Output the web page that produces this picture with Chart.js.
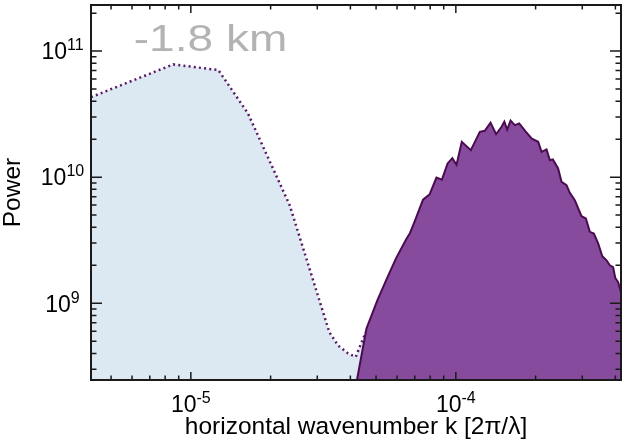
<!DOCTYPE html>
<html><head><meta charset="utf-8">
<script src="https://cdn.jsdelivr.net/npm/chart.js@4"></script>
<style>html,body{margin:0;padding:0;background:#fff}canvas{display:block}</style>
</head><body>
<canvas id="c" width="623" height="444"></canvas>
<script>
// ---- data ----
const belowK = [4.2e-6, 8.58e-6, 1.27e-5, 1.64e-5, 2.36e-5, 3.33e-5, 3.60e-5, 3.92e-5, 4.19e-5, 4.57e-5];
const belowPower = [4.31e10, 7.84e10, 7.07e10, 3.22e10, 6.0e9, 5.9e8, 4.6e8, 4.0e8, 3.75e8, 5.9e8];

const levelK = [4.12e-5, 4.60e-5, 5.06e-5, 5.48e-5, 5.94e-5, 6.52e-5, 6.71e-5, 7.00e-5, 7.52e-5, 7.97e-5,
  8.45e-5, 8.86e-5, 9.31e-5, 9.70e-5, 1.006e-4, 1.053e-4, 1.139e-4, 1.232e-4, 1.286e-4, 1.352e-4,
  1.419e-4, 1.488e-4, 1.524e-4, 1.562e-4, 1.609e-4, 1.670e-4, 1.734e-4, 1.829e-4, 1.935e-4, 2.045e-4,
  2.106e-4, 2.199e-4, 2.263e-4, 2.323e-4, 2.432e-4, 2.505e-4, 2.616e-4, 2.692e-4, 2.812e-4, 2.98e-4,
  3.095e-4, 3.204e-4, 3.318e-4, 3.443e-4, 3.571e-4, 3.704e-4, 3.811e-4, 3.922e-4, 3.998e-4, 4.097e-4, 4.212e-4];
const levelPower = [1.80e8, 6.30e8, 1.06e9, 1.55e9, 2.26e9, 3.26e9, 3.59e9, 4.48e9, 6.63e9, 7.33e9,
  9.91e9, 9.55e9, 1.284e10, 1.415e10, 1.256e10, 1.906e10, 1.638e10, 2.288e10, 2.331e10, 2.707e10,
  2.194e10, 2.507e10, 2.757e10, 2.382e10, 2.808e10, 2.586e10, 2.668e10, 2.318e10, 2.021e10, 1.906e10,
  1.588e10, 1.659e10, 1.364e10, 1.382e10, 1.172e10, 9.18e9, 8.64e9, 7.51e9, 6.57e9, 4.90e9,
  4.70e9, 3.68e9, 3.57e9, 2.98e9, 2.36e9, 2.19e9, 2.00e9, 1.93e9, 1.58e9, 1.47e9, 1.20e9];

const xTickValues = [1e-5, 1e-4];
const xTickExponents = ['-5', '-4'];
const yTickValues = [1e9, 1e10, 1e11];
const yTickExponents = ['9', '10', '11'];

const levelLabel = '-1.8 km';
const xTitle = 'horizontal wavenumber k [2\u03C0/\u03BB]';
const yTitle = 'Power';

const FONT = '"Liberation Sans", Arial, Helvetica, sans-serif';

const decor = {
  id: 'decor',
  afterDraw(chart) {
    const { ctx, chartArea: a, scales: { x, y } } = chart;
    ctx.save();
    const ticksFor = (s) => {
      const out = [];
      const lo = Math.floor(Math.log10(s.min)), hi = Math.ceil(Math.log10(s.max));
      for (let e = lo; e <= hi; e++) for (let m = 1; m <= 9; m++) {
        const v = m * Math.pow(10, e);
        if (v >= s.min * 0.999 && v <= s.max * 1.001) out.push({ v, major: m === 1 });
      }
      return out;
    };
    ctx.strokeStyle = '#1a1a1a';
    ctx.lineWidth = 1.5;
    ctx.beginPath();
    for (const t of ticksFor(x)) {
      const px = x.getPixelForValue(t.v);
      const L = t.major ? 8 : 4.5;
      ctx.moveTo(px, a.bottom); ctx.lineTo(px, a.bottom - L);
      ctx.moveTo(px, a.top); ctx.lineTo(px, a.top + L);
    }
    for (const t of ticksFor(y)) {
      const py = y.getPixelForValue(t.v);
      const L = t.major ? 11 : 5.5;
      ctx.moveTo(a.left, py); ctx.lineTo(a.left + L, py);
      ctx.moveTo(a.right, py); ctx.lineTo(a.right - L, py);
    }
    ctx.stroke();
    ctx.lineWidth = 2;
    ctx.strokeRect(a.left, a.top, a.right - a.left, a.bottom - a.top);

    ctx.fillStyle = '#000';
    ctx.textBaseline = 'alphabetic';
    ctx.textAlign = 'left';
    const pow = (exp, cx, base) => {
      ctx.font = '23px ' + FONT;
      const w1 = ctx.measureText('10').width;
      ctx.font = '16px ' + FONT;
      const w2 = ctx.measureText(exp).width;
      const x0 = cx - (w1 + w2) / 2;
      ctx.font = '23px ' + FONT;
      ctx.fillText('10', x0, base);
      ctx.font = '16px ' + FONT;
      ctx.fillText(exp, x0 + w1, base - 9);
    };
    xTickValues.forEach((v, i) => pow(xTickExponents[i], x.getPixelForValue(v), 412));
    yTickValues.forEach((v, i) => pow(yTickExponents[i], 62.5, y.getPixelForValue(v) + 8.3));

    ctx.font = '24.5px ' + FONT;
    ctx.textAlign = 'center';
    ctx.fillText(xTitle, (a.left + a.right) / 2, 434);
    ctx.save();
    ctx.translate(20, (a.top + a.bottom) / 2);
    ctx.rotate(-Math.PI / 2);
    ctx.fillText(yTitle, 0, 0);
    ctx.restore();

    // level annotation, stretched to the reference's wide lettering
    ctx.font = '37px ' + FONT;
    ctx.textAlign = 'left';
    ctx.fillStyle = '#b3b3b3';
    const m = ctx.measureText(levelLabel);
    const ink = m.actualBoundingBoxLeft + m.actualBoundingBoxRight;
    const sx = 150 / ink;
    ctx.save();
    ctx.translate(135, 51);
    ctx.scale(sx, 1);
    ctx.fillText(levelLabel, m.actualBoundingBoxLeft, 0);
    ctx.restore();
    ctx.restore();
  }
};

new Chart(document.getElementById('c'), {
  type: 'line',
  data: {
    datasets: [
      {
        label: 'level',
        data: levelK.map((k, i) => ({ x: k, y: levelPower[i] })),
        borderColor: '#4a0c4f',
        borderWidth: 2,
        backgroundColor: '#874b9e',
        fill: 'start',
        pointRadius: 0,
        tension: 0,
        order: 0
      },
      {
        label: 'below',
        data: belowK.map((k, i) => ({ x: k, y: belowPower[i] })),
        borderColor: '#581a66',
        borderWidth: 2.5,
        borderDash: [2, 3.2],
        backgroundColor: '#dde9f2',
        fill: 'start',
        pointRadius: 0,
        tension: 0,
        order: 1
      }
    ]
  },
  options: {
    responsive: false,
    animation: false,
    devicePixelRatio: 1,
    layout: { padding: { left: 91, right: 2, top: 5, bottom: 64 } },
    plugins: { legend: { display: false }, tooltip: { enabled: false } },
    scales: {
      x: { type: 'logarithmic', min: 4.2e-6, max: 4.2e-4, display: false },
      y: { type: 'logarithmic', min: 2.46e8, max: 2.32e11, display: false }
    }
  },
  plugins: [decor]
});
</script>
</body></html>
